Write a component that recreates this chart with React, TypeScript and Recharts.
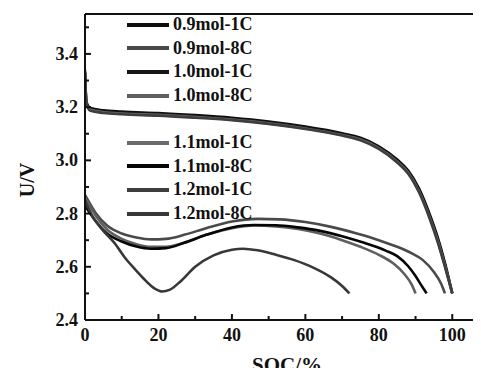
import React from 'react'
import { LineChart, Line, XAxis, YAxis, Legend, ReferenceLine } from 'recharts'

// discharge curves, voltage (V) vs state of charge (%)
const soc1C = [0, 0.4, 1.5, 5, 10, 20, 30, 40, 50, 60, 70, 75, 80, 85, 88, 91, 94, 96, 98, 100]
const v09mol1C = [3.34, 3.22, 3.197, 3.188, 3.183, 3.178, 3.17, 3.16, 3.146, 3.127, 3.102, 3.085, 3.053, 3.003, 2.962, 2.893, 2.792, 2.712, 2.615, 2.5]
const v10mol1C = [3.33, 3.215, 3.193, 3.184, 3.179, 3.174, 3.166, 3.156, 3.142, 3.123, 3.098, 3.081, 3.049, 2.998, 2.957, 2.887, 2.786, 2.706, 2.609, 2.5]
const v11mol1C = [3.32, 3.21, 3.19, 3.181, 3.176, 3.171, 3.163, 3.153, 3.139, 3.12, 3.095, 3.078, 3.046, 2.995, 2.953, 2.882, 2.78, 2.7, 2.604, 2.5]
const v12mol1C = [3.33, 3.212, 3.186, 3.178, 3.173, 3.168, 3.16, 3.151, 3.137, 3.118, 3.093, 3.075, 3.043, 2.992, 2.95, 2.878, 2.775, 2.694, 2.6, 2.5]

const soc09mol8C = [0, 3, 6, 10, 14, 18, 22, 27, 33, 40, 47, 53, 60, 67, 74, 80, 85, 89, 92, 95, 97, 98]
const v09mol8C = [2.87, 2.8, 2.755, 2.725, 2.71, 2.703, 2.705, 2.72, 2.745, 2.77, 2.78, 2.778, 2.768, 2.75, 2.725, 2.7, 2.675, 2.65, 2.625, 2.58, 2.535, 2.5]
const soc10mol8C = [0, 3, 6, 10, 14, 18, 22, 27, 33, 40, 46, 52, 58, 64, 70, 75, 80, 84, 87, 89, 90]
const v10mol8C = [2.86, 2.79, 2.74, 2.705, 2.685, 2.675, 2.675, 2.69, 2.72, 2.745, 2.755, 2.752, 2.742, 2.725, 2.7, 2.675, 2.645, 2.612, 2.572, 2.532, 2.5]
const soc11mol8C = [0, 3, 6, 10, 14, 18, 22, 27, 33, 40, 46, 52, 58, 64, 70, 76, 82, 85, 88, 90, 91.5, 93]
const v11mol8C = [2.83, 2.77, 2.725, 2.695, 2.676, 2.668, 2.67, 2.69, 2.72, 2.748, 2.757, 2.756, 2.748, 2.735, 2.715, 2.69, 2.66, 2.64, 2.602, 2.565, 2.532, 2.5]
const soc12mol8C = [0, 2, 5, 8, 11, 14, 16, 19, 21, 23, 26, 30, 35, 40, 43, 47, 52, 57, 62, 67, 70, 72]
const v12mol8C = [2.85, 2.79, 2.735, 2.69, 2.632, 2.585, 2.555, 2.518, 2.507, 2.513, 2.545, 2.6, 2.643, 2.664, 2.668, 2.662, 2.645, 2.625, 2.598, 2.56, 2.528, 2.5]

const xTicks = [0, 10, 20, 30, 40, 50, 60, 70, 80, 90, 100, 110]
const yTicks = [2.4, 2.5, 2.6, 2.7, 2.8, 2.9, 3.0, 3.1, 3.2, 3.3, 3.4, 3.5]

const rows = (soc: number[], v: number[]) => soc.map((s, i) => ({ soc: s, v: v[i] }))

const series = [
  { name: '0.9mol-1C', color: '#0e0e0e', data: rows(soc1C, v09mol1C) },
  { name: '0.9mol-8C', color: '#4a4a4a', data: rows(soc09mol8C, v09mol8C) },
  { name: '1.0mol-1C', color: '#161616', data: rows(soc1C, v10mol1C) },
  { name: '1.0mol-8C', color: '#5f5f5f', data: rows(soc10mol8C, v10mol8C) },
  { name: '1.1mol-1C', color: '#6a6a6a', data: rows(soc1C, v11mol1C) },
  { name: '1.1mol-8C', color: '#060606', data: rows(soc11mol8C, v11mol8C) },
  { name: '1.2mol-1C', color: '#3e3e3e', data: rows(soc1C, v12mol1C) },
  { name: '1.2mol-8C', color: '#383838', data: rows(soc12mol8C, v12mol8C) },
]

const FONT = 'Liberation Serif, Tinos, DejaVu Serif, Times New Roman, serif'
const INK = '#111'

function XTick({ x, y, payload }: any) {
  const v = payload.value
  const major = v % 20 === 0 && v <= 100
  return (
    <g>
      <line x1={x} y1={y} x2={x} y2={y - (major ? 6 : 4)} stroke={INK} strokeWidth={2} />
      {major && (
        <text x={x} y={y + 21} textAnchor="middle" style={{ fontFamily: FONT }} fontWeight="bold" fontSize={18} fill={INK}>
          {v}
        </text>
      )}
    </g>
  )
}

function YTick({ x, y, payload }: any) {
  const v = payload.value
  const major = Math.round(v * 10) % 2 === 0
  return (
    <g>
      <line x1={x} y1={y} x2={x + (major ? 6 : 4)} y2={y} stroke={INK} strokeWidth={2} />
      {major && (
        <text x={x - 7} y={y + 6} textAnchor="end" style={{ fontFamily: FONT }} fontWeight="bold" fontSize={18} fill={INK}>
          {v.toFixed(1)}
        </text>
      )}
    </g>
  )
}

function LegendBox() {
  return (
    <div style={{ fontFamily: FONT, fontWeight: 'bold', fontSize: 18, color: INK }}>
      {series.map((s, i) => (
        <div key={s.name} style={{ display: 'flex', alignItems: 'center', height: 23.6, marginTop: i === 4 ? 23.6 : 0 }}>
          <svg width={42} height={6} style={{ display: 'block' }}>
            <line x1={0} y1={3} x2={42} y2={3} stroke={s.color} strokeWidth={4} />
          </svg>
          <span style={{ marginLeft: 4, lineHeight: '23.6px', whiteSpace: 'nowrap' }}>{s.name}</span>
        </div>
      ))}
    </div>
  )
}

export default function App() {
  return (
    <div style={{ margin: -8, width: 481, height: 376, overflow: 'hidden', position: 'relative', background: '#fff', fontFamily: FONT }}>
      <LineChart width={500} height={376} margin={{ top: 14, right: 11, left: 0, bottom: 0 }}>
        <XAxis
          dataKey="soc"
          type="number"
          domain={[0, 110]}
          ticks={xTicks}
          allowDataOverflow
          height={56}
          tickSize={0}
          tickMargin={0}
          tickLine={false}
          tick={<XTick />}
          axisLine={{ stroke: INK, strokeWidth: 2 }}
          label={({ viewBox }: any) => (
            <text x={viewBox.x + 202} y={viewBox.y + 52} textAnchor="middle" style={{ fontFamily: FONT }} fontWeight="bold" fontSize={21} fill={INK}>
              SOC/%
            </text>
          )}
        />
        <YAxis
          type="number"
          domain={[2.4, 3.55]}
          ticks={yTicks}
          allowDataOverflow
          width={85}
          tickSize={0}
          tickMargin={0}
          tickLine={false}
          tick={<YTick />}
          axisLine={{ stroke: INK, strokeWidth: 2 }}
          label={({ viewBox }: any) => {
            const cx = viewBox.x + 27
            const cy = viewBox.y + viewBox.height / 2 + 13
            return (
              <text x={cx} y={cy} transform={`rotate(-90 ${cx} ${cy})`} textAnchor="middle" dominantBaseline="central" style={{ fontFamily: FONT }} fontWeight="bold" fontSize={20} fill={INK}>
                U/V
              </text>
            )
          }}
        />
        <ReferenceLine y={3.55} stroke={INK} strokeWidth={2} ifOverflow="extendDomain" />
        {series.map((s) => (
          <Line
            key={s.name}
            data={s.data}
            dataKey="v"
            name={s.name}
            type="monotone"
            stroke={s.color}
            strokeWidth={2.6}
            dot={false}
            isAnimationActive={false}
          />
        ))}
        <Legend
          layout="vertical"
          align="center"
          verticalAlign="middle"
          content={() => <LegendBox />}
          wrapperStyle={{ left: 127, top: 13, width: 'auto' }}
        />
      </LineChart>
    </div>
  )
}
